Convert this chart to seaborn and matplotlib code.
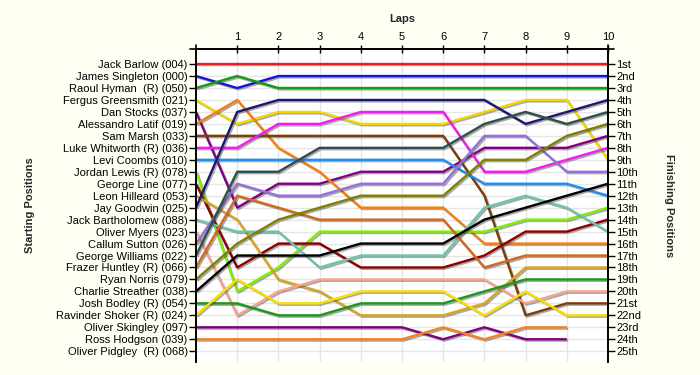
import matplotlib
matplotlib.use('Agg')
import matplotlib.pyplot as plt
import matplotlib.patheffects as pe
import numpy as np
import pandas as pd
import seaborn as sns

# --- data -------------------------------------------------------------
drivers = [
    'Jack Barlow (004)', 'James Singleton (000)', 'Raoul Hyman  (R) (050)',
    'Fergus Greensmith (021)', 'Dan Stocks (037)', 'Alessandro Latif (019)',
    'Sam Marsh (033)', 'Luke Whitworth (R) (036)', 'Levi Coombs (010)',
    'Jordan Lewis (R) (078)', 'George Line (077)', 'Leon Hilleard (053)',
    'Jay Goodwin (025)', 'Jack Bartholomew (088)', 'Oliver Myers (023)',
    'Callum Sutton (026)', 'George Williams (022)', 'Frazer Huntley (R) (066)',
    'Ryan Norris (079)', 'Charlie Streather (038)', 'Josh Bodley (R) (054)',
    'Ravinder Shoker (R) (024)', 'Oliver Skingley (097)', 'Ross Hodgson (039)',
    'Oliver Pidgley  (R) (068)',
]
finish_labels = ['1st', '2nd', '3rd', '4th', '5th', '6th', '7th', '8th', '9th',
                 '10th', '11th', '12th', '13th', '14th', '15th', '16th', '17th',
                 '18th', '19th', '20th', '21st', '22nd', '23rd', '24th', '25th']
laps = [0, 1, 2, 3, 4, 5, 6, 7, 8, 9, 10]
lap_ticks = [1, 2, 3, 4, 5, 6, 7, 8, 9, 10]

# position of each driver after every lap (lap 0 = grid), NaN = retired
nan = np.nan
positions = [
    [1, 1, 1, 1, 1, 1, 1, 1, 1, 1, 1],
    [2, 3, 2, 2, 2, 2, 2, 2, 2, 2, 2],
    [3, 2, 3, 3, 3, 3, 3, 3, 3, 3, 3],
    [4, 6, 5, 5, 6, 6, 6, 5, 4, 4, 9],
    [5, 13, 11, 11, 10, 10, 10, 8, 8, 8, 7],
    [6, 4, 8, 10, 13, 13, 13, 16, 16, 16, 16],
    [7, 7, 7, 7, 7, 7, 7, 12, 22, 21, 21],
    [8, 8, 6, 6, 5, 5, 5, 10, 10, 9, 8],
    [9, 9, 9, 9, 9, 9, 9, 11, 11, 11, 12],
    [10, 20, 18, 15, 15, 15, 15, 15, 14, 14, 13],
    [11, 18, 16, 16, 18, 18, 18, 17, 15, 15, 14],
    [12, 14, 19, 20, 22, 22, 22, 21, 18, 18, 18],
    [13, 5, 4, 4, 4, 4, 4, 4, 6, 5, 4],
    [14, 15, 15, 18, 17, 17, 17, 13, 12, 13, 15],
    [15, 22, 20, 19, 19, 19, 19, 19, 21, 20, 20],
    [16, 11, 12, 12, 11, 11, 11, 7, 7, 10, 10],
    [17, 10, 10, 8, 8, 8, 8, 6, 5, 6, 5],
    [18, 12, 13, 14, 14, 14, 14, 18, 17, 17, 17],
    [19, 16, 14, 13, 12, 12, 12, 9, 9, 7, 6],
    [20, 17, 17, 17, 16, 16, 16, 14, 13, 12, 11],
    [21, 21, 22, 22, 21, 21, 21, 20, 19, 19, 19],
    [22, 19, 21, 21, 20, 20, 20, 22, 20, 22, 22],
    [23, 23, 23, 23, 23, 23, 24, 23, 24, 24, nan],
    [24, 24, 24, 24, 24, 24, 23, 24, 23, 23, nan],
    [nan, nan, nan, nan, nan, nan, nan, nan, nan, nan, nan],
]
colors = [
    '#e8211d', '#1414d4', '#129c12', '#f2d800', '#800080', '#f57f10',
    '#7a3e0a', '#f01cf0', '#2090ee', '#80f000', '#8b0000', '#daa520',
    '#191970', '#6fc4ac', '#f8a48e', '#9370db', '#2f4f4f', '#d2691e',
    '#808000', '#000000', '#1a9a1a', '#f8e000', '#800080', '#f5841e',
    '#999999',
]

rows = []
for name, pos in zip(drivers, positions):
    for lap, p in zip(laps, pos):
        if not np.isnan(p):
            rows.append({'driver': name, 'lap': lap, 'pos': p})
df = pd.DataFrame(rows)
palette = dict(zip(drivers, colors))

# --- style -------------------------------------------------------------
sns.set_theme(style='white')
plt.rcParams['font.family'] = ['Liberation Sans', 'DejaVu Sans']
BG = '#fffff4'

fig = plt.figure(figsize=(7, 3.75), dpi=100, facecolor=BG)
ax = fig.add_axes([0.28, 0.0347, 0.5886, 0.8343])
ax.set_facecolor('white')

sns.lineplot(data=df, x='lap', y='pos', hue='driver', palette=palette,
             hue_order=[d for d in drivers if d in set(df['driver'])],
             estimator=None, sort=False, legend=False, linewidth=1.7, ax=ax)
for ln in ax.lines:
    ln.set_path_effects([pe.SimpleLineShadow(offset=(1.0, -1.0),
                                             shadow_color='#444444', alpha=0.45),
                         pe.Normal()])
    ln.set_solid_capstyle('butt')

ax.set_xlim(0, 10)
ax.set_ylim(25.9, -0.25)
ax.grid(True, color='#e6e6e6', linewidth=1)
ax.set_axisbelow(True)

ax.xaxis.tick_top()
ax.set_xticks(lap_ticks)
ax.set_xticklabels([str(t) for t in lap_ticks])
ax.tick_params(axis='x', top=True, bottom=False, direction='inout', length=6,
               width=1, colors='black', labelsize=8, pad=2)
ax.set_xlabel('Laps', fontsize=8, fontweight='bold', labelpad=7)
ax.xaxis.set_label_position('top')

ax.set_yticks(range(1, 26))
ax.set_yticklabels(drivers)
ax.tick_params(axis='y', left=True, direction='out', length=5, width=1,
               colors='black', labelsize=8, pad=1)
ax.set_ylabel('')

ax2 = ax.twinx()
ax2.set_ylim(25.9, -0.25)
ax2.set_yticks(range(1, 26))
ax2.set_yticklabels(finish_labels)
ax2.tick_params(axis='y', right=True, direction='out', length=5, width=1,
                colors='black', labelsize=8, pad=1)
ax2.grid(False)

for a in (ax, ax2):
    a.spines['bottom'].set_visible(False)
    for s in ('left', 'right', 'top'):
        a.spines[s].set_color('black')
        a.spines[s].set_linewidth(1.2)

# top axis runs a little past both side axes
ax.plot([-0.15, 10.15], [1, 1], transform=ax.get_xaxis_transform(),
        color='black', linewidth=1.2, clip_on=False)
ax.plot([0, 0], [1, 1.012], transform=ax.transAxes, color='black',
        linewidth=1.2, clip_on=False)
ax.plot([1, 1], [1, 1.012], transform=ax.transAxes, color='black',
        linewidth=1.2, clip_on=False)

fig.text(0.043, 0.452, 'Starting Positions', rotation=90, fontsize=8,
         fontweight='bold', ha='center', va='center')
fig.text(0.955, 0.452, 'Finishing Positions', rotation=270, fontsize=8,
         fontweight='bold', ha='center', va='center')

fig.savefig('out.png', dpi=100, facecolor=BG)
